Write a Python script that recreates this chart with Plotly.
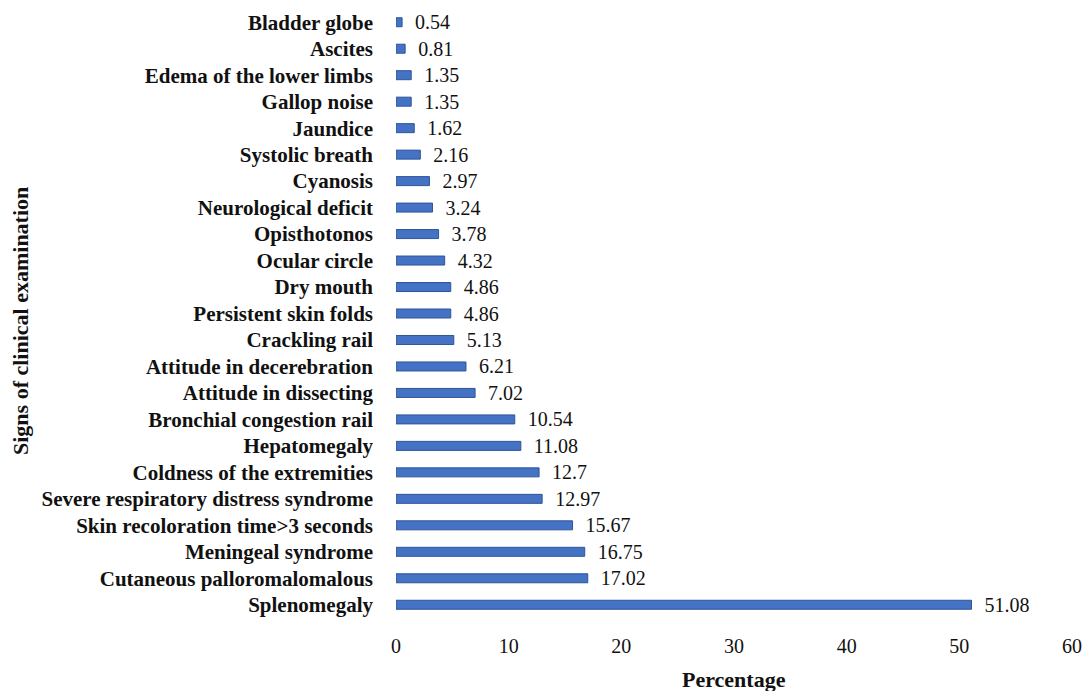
import plotly.graph_objects as go

categories = [
    "Splenomegaly", "Cutaneous palloromalomalous", "Meningeal syndrome",
    "Skin recoloration time>3 seconds", "Severe respiratory distress syndrome",
    "Coldness of the extremities", "Hepatomegaly", "Bronchial congestion rail",
    "Attitude in dissecting", "Attitude in decerebration", "Crackling rail",
    "Persistent skin folds", "Dry mouth", "Ocular circle", "Opisthotonos",
    "Neurological deficit", "Cyanosis", "Systolic breath", "Jaundice",
    "Gallop noise", "Edema of the lower limbs", "Ascites", "Bladder globe",
]
values = [51.08, 17.02, 16.75, 15.67, 12.97, 12.7, 11.08, 10.54, 7.02, 6.21,
          5.13, 4.86, 4.86, 4.32, 3.78, 3.24, 2.97, 2.16, 1.62, 1.35, 1.35,
          0.81, 0.54]
value_labels = ["51.08", "17.02", "16.75", "15.67", "12.97", "12.7", "11.08",
                "10.54", "7.02", "6.21", "5.13", "4.86", "4.86", "4.32", "3.78",
                "3.24", "2.97", "2.16", "1.62", "1.35", "1.35", "0.81", "0.54"]
x_ticks = [0, 10, 20, 30, 40, 50, 60]

FONT = "Liberation Serif"
INK = "#111111"

W, H = 1083, 691
L, R, T, B = 396, 11, 9, 73
plot_w = W - L - R
plot_h = H - T - B

fig = go.Figure(go.Bar(
    y=categories, x=values, orientation="h",
    marker=dict(color="#4472C4", line=dict(color="#2F5597", width=1)),
    width=0.34,
    text=["  " + t for t in value_labels],
    textposition="outside",
    constraintext="none",
    textfont=dict(family=FONT, size=20, color=INK),
    outsidetextfont=dict(family=FONT, size=20, color=INK),
    cliponaxis=False,
))

fig.update_layout(
    width=W, height=H,
    margin=dict(l=L, r=R, t=T, b=B, autoexpand=False),
    paper_bgcolor="white", plot_bgcolor="white",
    showlegend=False,
    font=dict(family=FONT, color=INK),
    xaxis=dict(
        range=[0, 60], tickvals=x_ticks, showgrid=False, zeroline=False,
        showline=False, ticks="", ticklabelstandoff=14,
        tickfont=dict(family=FONT, size=20, color=INK),
    ),
    yaxis=dict(
        type="category", categoryorder="array", categoryarray=categories,
        range=[-0.5, len(categories) - 0.5],
        showgrid=False, zeroline=False, showline=False, ticks="",
        ticklabelstandoff=22,
        tickfont=dict(family=FONT, size=21, color=INK, weight="bold"),
    ),
    annotations=[
        dict(
            text="<b>Signs of clinical examination</b>", textangle=-90,
            xref="paper", yref="paper", x=-(L - 20) / plot_w,
            y=(plot_h + T - 321) / plot_h,
            xanchor="center", yanchor="middle", showarrow=False,
            font=dict(family=FONT, size=22, color=INK),
        ),
        dict(
            text="<b>Percentage</b>",
            xref="paper", yref="paper", x=0.5,
            y=-(679 - (plot_h + T)) / plot_h,
            xanchor="center", yanchor="middle", showarrow=False,
            font=dict(family=FONT, size=22, color=INK),
        ),
    ],
)

# remove the browser's default 8px page margin so the figure fills the window
fig.write_html(
    "out.html",
    config={"displayModeBar": False},
    post_script="document.body.style.margin='0';document.body.style.overflow='hidden';",
)
